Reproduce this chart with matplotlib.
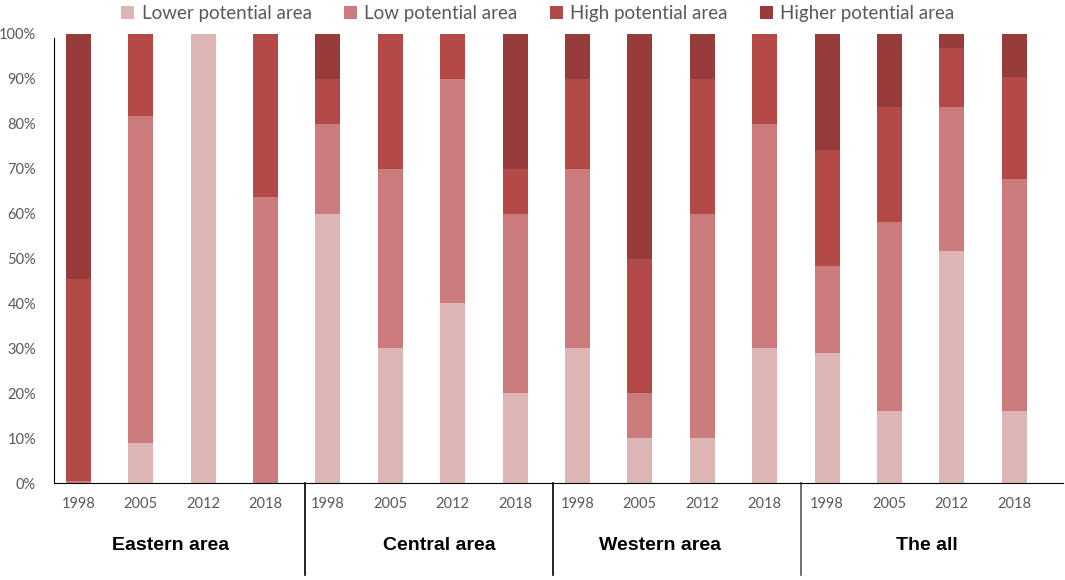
import numpy as np
import matplotlib
matplotlib.use("Agg")
import matplotlib.pyplot as plt
import matplotlib.transforms as mtransforms

# data (percent of each bar)
years = ["1998", "2005", "2012", "2018"]
groups = ["Eastern area", "Central area", "Western area", "The all"]
series_names = ["Lower potential area", "Low potential area",
                "High potential area", "Higher potential area"]

lower = [0, 9, 100, 0,
         60, 30, 40, 20,
         30, 10, 10, 30,
         29.0, 16.1, 51.7, 16.1]
low = [0.4, 72.8, 0, 63.6,
       20, 40, 50, 40,
       40, 10, 50, 50,
       19.3, 42.0, 32.1, 51.6]
high = [45.1, 18.2, 0, 36.4,
        10, 30, 10, 10,
        20, 30, 30, 20,
        25.9, 25.7, 13.0, 22.7]
higher = [54.5, 0, 0, 0,
          10, 0, 0, 30,
          10, 50, 10, 0,
          25.8, 16.2, 3.2, 9.6]

colors = ["#DDB5B5", "#CB7B7B", "#B34A48", "#983B3B"]

plt.rcParams['font.family'] = ['Lato', 'DejaVu Sans']

fig = plt.figure(figsize=(10.65, 5.8), dpi=100)
ax = fig.add_axes([0.0507, 0.1672, 0.9473, 0.7742])

x = np.arange(len(lower))
bottom = np.zeros(len(x))
handles = []
for vals, c, name in zip([lower, low, high, higher], colors, series_names):
    vals = np.array(vals, dtype=float)
    b = ax.bar(x, vals, 0.4, bottom=bottom, color=c, label=name, linewidth=0)
    handles.append(b)
    bottom += vals

ax.set_xlim(-0.39, 15.78)
ax.set_ylim(0, 100)
ax.set_yticks(np.arange(0, 101, 10))
ax.set_yticklabels([f"{v}%" for v in range(0, 101, 10)])
ax.set_xticks(x)
ax.set_xticklabels(years * 4)
ax.tick_params(axis='both', length=0, colors='#595959', labelsize=10.5)
ax.tick_params(axis='y', pad=13)
ax.tick_params(axis='x', pad=10)

for s in ['top', 'right']:
    ax.spines[s].set_visible(False)
ax.spines['left'].set_color('black')
ax.spines['bottom'].set_color('black')
ax.spines['left'].set_bounds(0, 99)

# group separators and names below the axis
trans = mtransforms.blended_transform_factory(ax.transData, ax.transAxes)
sep_x = [3.63, 7.6, 11.59]
sep_col = ['black', 'black', '#555555']
for sx, sc in zip(sep_x, sep_col):
    ax.plot([sx, sx], [0, -0.205], color=sc, lw=1.2, transform=trans, clip_on=False)

label_x = [1.48, 5.79, 9.33, 13.6]
for gx, g in zip(label_x, groups):
    ax.text(gx, -0.14, g, transform=trans, ha='center', va='center',
            fontsize=14, fontweight='bold', family='Liberation Sans', color='black')

fig.legend(handles=handles, labels=series_names, loc='upper center',
           bbox_to_anchor=(0.505, 1.02), ncol=4, frameon=False,
           fontsize=13.5, labelcolor='#595959', handlelength=0.7, handleheight=0.7,
           columnspacing=1.7, handletextpad=0.4)

fig.savefig("out.png", dpi=100)
